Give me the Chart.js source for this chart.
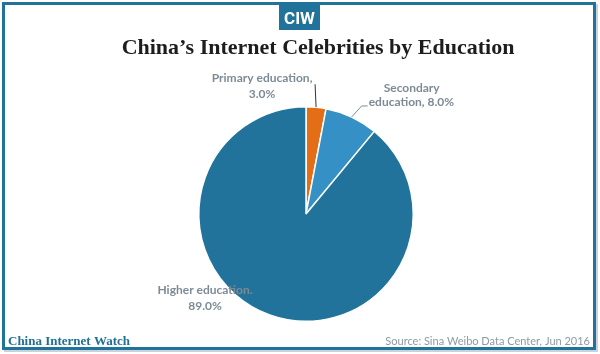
<!DOCTYPE html>
<html>
<head>
<meta charset="utf-8">
<script src="https://cdn.jsdelivr.net/npm/chart.js@4/dist/chart.umd.min.js"></script>
<style>
  html, body { margin: 0; padding: 0; background: #fff; }
  #wrap { width: 600px; height: 354px; position: relative; }
</style>
</head>
<body>
<div id="wrap"><canvas id="chart" width="600" height="354"></canvas></div>
<script>
// data
const categories = ['Primary education', 'Secondary education', 'Higher education'];
const shares = [3.0, 8.0, 89.0];
const sliceColors = ['#e46d17', '#3590c5', '#21739b'];

const titleText = 'China\u2019s Internet Celebrities by Education';
const brandText = 'China Internet Watch';
const sourceText = 'Source: Sina Weibo Data Center, Jun 2016';

const BLUE = '#21739b';
const LABEL_GREY = '#7d8b96';

// frame, logo, title and footer
const decorPlugin = {
    id: 'decor',
    beforeDraw(chart) {
        const ctx = chart.ctx;
        ctx.save();
        ctx.fillStyle = '#fff';
        ctx.fillRect(0, 0, chart.width, chart.height);
        // soft shadow on right/bottom
        ctx.fillStyle = '#c9d3da';
        ctx.fillRect(596, 4, 2, 348);
        ctx.fillRect(4, 350, 594, 2);
        // frame
        ctx.strokeStyle = BLUE;
        ctx.lineWidth = 3;
        ctx.strokeRect(3.5, 3.5, 591, 345);
        // logo
        ctx.fillStyle = BLUE;
        ctx.fillRect(279, 2, 41, 28);
        ctx.fillStyle = '#fff';
        ctx.font = 'bold 17px "Liberation Sans Narrow", "Roboto", sans-serif';
        ctx.textAlign = 'center';
        ctx.textBaseline = 'alphabetic';
        ctx.fillText('CIW', 299.5, 24);
        // title
        ctx.fillStyle = '#1d1d1d';
        ctx.font = 'bold 22px "Liberation Serif", serif';
        ctx.fillText(titleText, 318, 54);
        // footer
        ctx.textAlign = 'left';
        ctx.fillStyle = '#1f6f96';
        ctx.font = 'bold 13px "Liberation Serif", serif';
        ctx.fillText(brandText, 8, 345);
        ctx.textAlign = 'right';
        ctx.fillStyle = '#8c9aa4';
        ctx.font = '11px "Lato", sans-serif';
        ctx.fillText(sourceText, 590, 345);
        ctx.restore();
    }
};

// slice labels with leader lines, anchored on each arc
const labelPlugin = {
    id: 'sliceLabels',
    afterDatasetsDraw(chart) {
        const ctx = chart.ctx;
        const arcs = chart.getDatasetMeta(0).data;
        ctx.save();
        ctx.fillStyle = LABEL_GREY;
        ctx.strokeStyle = '#333';
        ctx.lineWidth = 1;
        ctx.font = 'bold 12px "Lato", sans-serif';
        ctx.textAlign = 'center';
        ctx.textBaseline = 'alphabetic';

        const edge = (arc) => {
            const mid = (arc.startAngle + arc.endAngle) / 2;
            return [arc.x + Math.cos(mid) * arc.outerRadius, arc.y + Math.sin(mid) * arc.outerRadius];
        };
        const pct = (i) => shares[i].toFixed(1) + '%';

        // primary
        let a = arcs[0], p = edge(a);
        ctx.beginPath();
        ctx.moveTo(p[0], p[1]);
        ctx.lineTo(p[0] - 1, p[1] - 23);
        ctx.stroke();
        ctx.fillText('Primary education,', p[0] - 54, p[1] - 25);
        ctx.fillText(pct(0), p[0] - 54, p[1] - 9);

        // secondary
        a = arcs[1]; p = edge(a);
        ctx.strokeStyle = '#7d8b96';
        ctx.beginPath();
        ctx.moveTo(p[0], p[1]);
        ctx.lineTo(p[0] + 10, p[1] - 11);
        ctx.lineTo(p[0] + 16, p[1] - 11);
        ctx.stroke();
        ctx.fillText('Secondary', p[0] + 60, p[1] - 25);
        ctx.textAlign = 'left';
        ctx.fillText('education, ' + pct(1), p[0] + 17, p[1] - 11);

        // higher
        a = arcs[2];
        ctx.textAlign = 'center';
        ctx.fillText('Higher education.', a.x - 101, a.y + 80);
        ctx.fillText(pct(2), a.x - 101, a.y + 96);
        ctx.restore();
    }
};

new Chart(document.getElementById('chart'), {
    type: 'pie',
    data: {
        labels: categories,
        datasets: [{
            data: shares,
            backgroundColor: sliceColors,
            borderColor: '#fff',
            borderWidth: 1.5
        }]
    },
    options: {
        responsive: false,
        animation: false,
        layout: { padding: { left: 198, right: 186, top: 106, bottom: 32 } },
        plugins: {
            legend: { display: false },
            tooltip: { enabled: false },
            title: { display: false }
        }
    },
    plugins: [decorPlugin, labelPlugin]
});
</script>
</body>
</html>
